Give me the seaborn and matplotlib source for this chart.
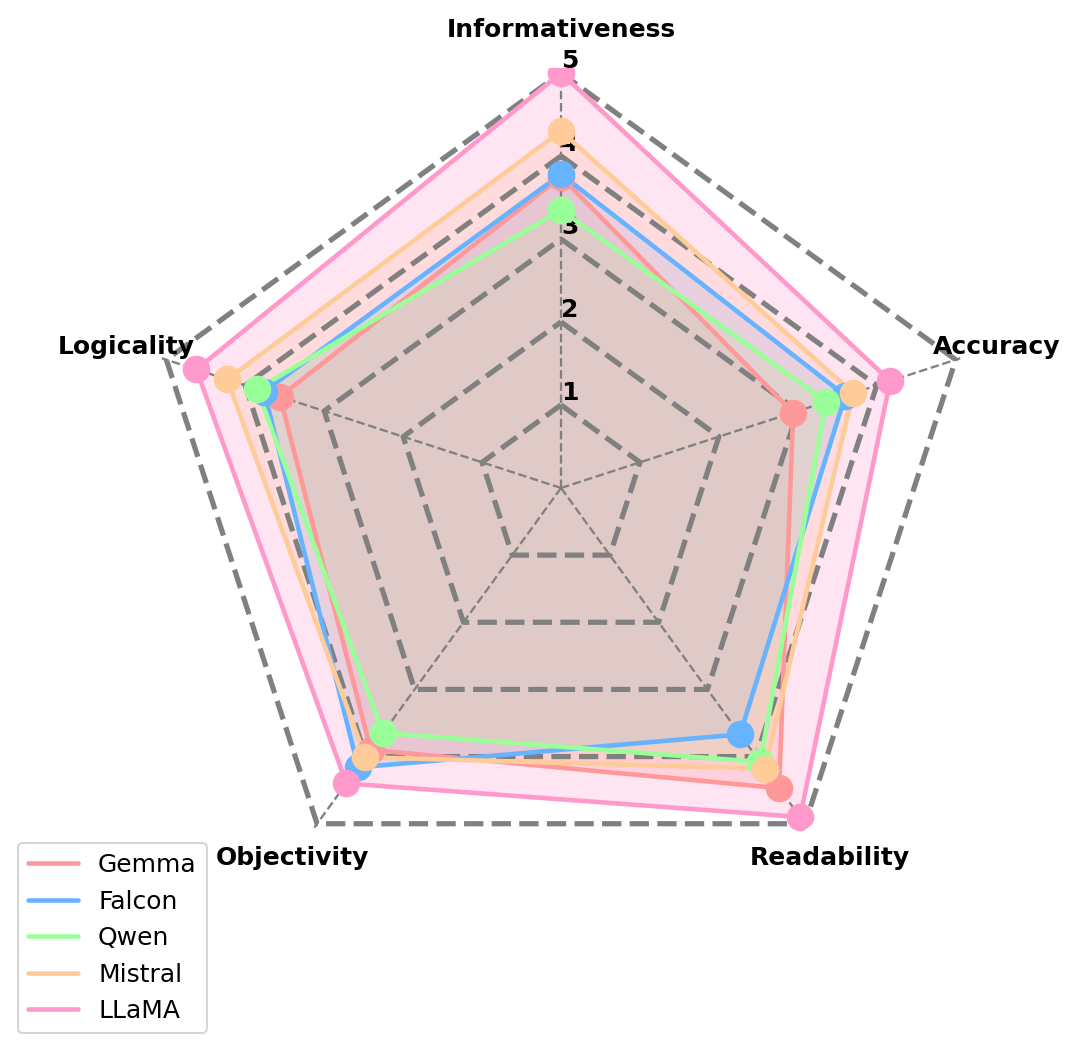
import numpy as np
import seaborn as sns
import matplotlib.pyplot as plt

sns.set_theme(style='white')
plt.rcParams['font.family'] = ['DejaVu Sans']
plt.rcParams['text.color'] = 'black'
plt.rcParams['xtick.color'] = 'black'
plt.rcParams['ytick.color'] = 'black'

# Data
categories = ['Informativeness', 'Accuracy', 'Readability', 'Objectivity', 'Logicality']
models = ['Gemma', 'Falcon', 'Qwen', 'Mistral', 'LLaMA']
gemma = [3.75, 2.94, 4.47, 3.90, 3.56]
falcon = [3.78, 3.60, 3.67, 4.16, 3.76]
qwen = [3.35, 3.36, 4.08, 3.65, 3.85]
mistral = [4.30, 3.70, 4.18, 4.01, 4.23]
llama = [5.00, 4.17, 4.90, 4.40, 4.62]
levels = [1, 2, 3, 4, 5]
colors = ['#ff9999', '#66b3ff', '#99ff99', '#ffcc99', '#ff99cc']

scores = [gemma, falcon, qwen, mistral, llama]

angles = np.linspace(0, 2 * np.pi, len(categories), endpoint=False).tolist()
closed = angles + angles[:1]

fig = plt.figure(figsize=(1079 / 150, 1052 / 150), dpi=150)
ax = fig.add_axes([0.1307, 0.1369, 0.7785, 0.7985], projection='polar')
ax.set_theta_offset(np.pi / 2)
ax.set_theta_direction(-1)
ax.set_axisbelow(False)

# dashed pentagon grid, above the fills
for lvl in levels:
    ax.plot(closed, [lvl] * len(closed), color='gray', linestyle='--', linewidth=2.5, zorder=2.2)

for name, vals, col in zip(models, scores, colors):
    v = vals + vals[:1]
    ax.plot(closed, v, color=col, linewidth=2.2, label=name, zorder=3)
    ax.fill(closed, v, color=col, alpha=0.25, zorder=2)
    sns.scatterplot(x=angles, y=vals, ax=ax, color=col, s=175, linewidth=0, zorder=4, legend=False)

ax.set_ylim(0, 5.06)
ax.set_xticks(angles)
ax.set_xticklabels(categories, fontsize=12, fontweight='bold')
ax.tick_params(axis='x', pad=5)
ax.set_yticks(levels)
ax.set_yticklabels([str(l) for l in levels], fontsize=12, fontweight='bold')
ax.set_rlabel_position(0)
ax.yaxis.grid(False)
ax.xaxis.grid(True, color='gray', linestyle='--', linewidth=1.1)
ax.spines['polar'].set_visible(False)
ax.set_facecolor('white')

ax.legend(loc='lower left', bbox_to_anchor=(0.0167, 0.018), bbox_transform=fig.transFigure,
          borderaxespad=0, fontsize=12)

plt.savefig('out.png', dpi=150)
